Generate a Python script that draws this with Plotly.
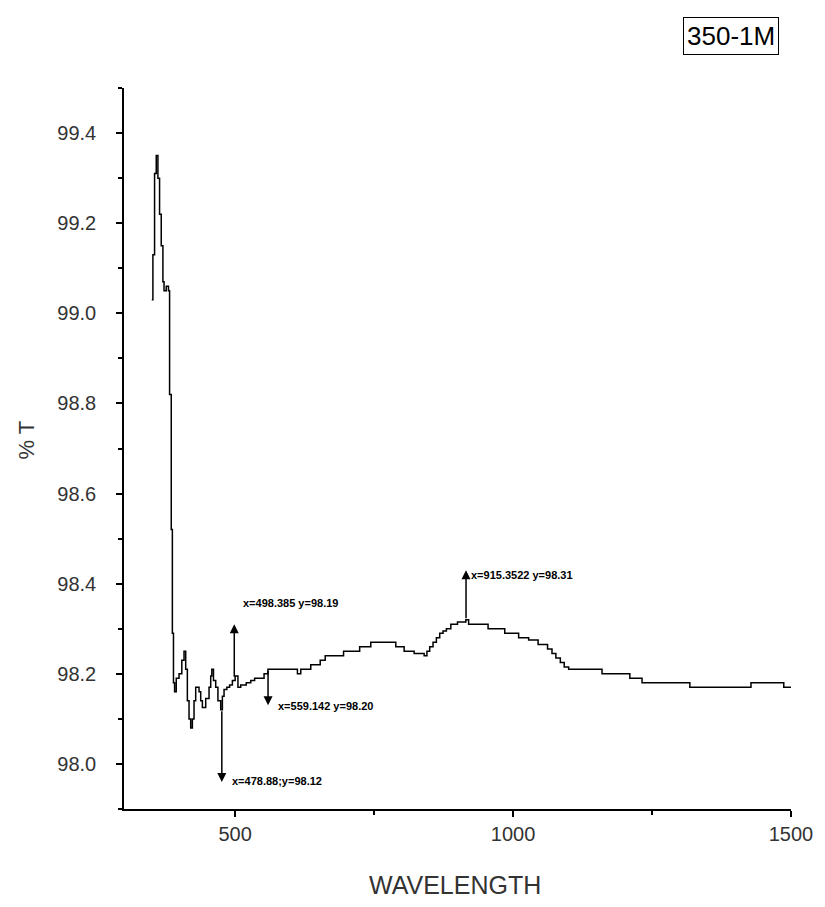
import plotly.graph_objects as go

# Spectrum data (wavelength in nm, transmittance in %T)
wavelength = [350, 352, 355, 358, 361, 364, 367, 370, 372, 376, 380, 382, 385, 387, 389,
              391, 394, 399, 404, 408, 411, 414, 417, 420, 423, 426, 429, 435, 438, 441,
              447, 453, 456, 458, 461, 465, 469, 474, 477, 480, 485, 490, 495, 500, 505,
              510, 520, 528, 535, 547, 552, 559, 600, 612, 618, 625, 636, 653, 662, 695,
              724, 744, 789, 804, 822, 840, 845, 850, 856, 862, 868, 874, 880, 888, 900,
              915, 920, 955, 985, 1010, 1028, 1045, 1062, 1070, 1077, 1085, 1092, 1100, 1160,
              1210, 1232, 1318, 1428, 1487, 1500]
transmittance = [99.03, 99.13, 99.31, 99.35, 99.30, 99.22, 99.15, 99.07, 99.05, 99.06, 99.05,
                 98.82, 98.52, 98.29, 98.18, 98.16, 98.19, 98.20, 98.23, 98.25, 98.21, 98.14,
                 98.10, 98.08, 98.10, 98.14, 98.17, 98.16, 98.14, 98.125, 98.145, 98.17,
                 98.195, 98.21, 98.185, 98.17, 98.14, 98.12, 98.15, 98.165, 98.17, 98.175,
                 98.185, 98.195, 98.17, 98.175, 98.18, 98.185, 98.19, 98.19, 98.20, 98.21,
                 98.21, 98.20, 98.21, 98.21, 98.22, 98.23, 98.24, 98.25, 98.26, 98.27, 98.26,
                 98.25, 98.245, 98.24, 98.25, 98.26, 98.27, 98.28, 98.29, 98.295, 98.30,
                 98.31, 98.315, 98.32, 98.31, 98.30, 98.29, 98.28, 98.275, 98.265, 98.255,
                 98.245, 98.235, 98.225, 98.215, 98.21, 98.20, 98.19, 98.18, 98.17, 98.18,
                 98.17, 98.17]

# Point annotations: curve point, arrow tip, label, label position
ann_x = [498.385, 559.142, 476.0, 915.3522]
ann_y = [98.19, 98.21, 98.12, 98.32]
ann_tip_y = [98.31, 98.13, 97.96, 98.43]
ann_text = ["x=498.385 y=98.19", "x=559.142 y=98.20", "x=478.88;y=98.12", "x=915.3522 y=98.31"]
ann_text_x = [511, 573, 491, 920]
ann_text_y = [98.357, 98.128, 97.962, 98.42]

x_ticks = [500, 1000, 1500]

fig = go.Figure()
fig.add_trace(go.Scatter(
    x=wavelength, y=transmittance, mode="lines",
    line=dict(color="black", width=1.5, shape="hv"),
    showlegend=False, hoverinfo="skip",
))

annotations = []
for xa, ya, yt, t, tx, ty in zip(ann_x, ann_y, ann_tip_y, ann_text, ann_text_x, ann_text_y):
    annotations.append(dict(
        x=xa, y=yt, ax=xa, ay=ya, xref="x", yref="y", axref="x", ayref="y",
        text="", showarrow=True, arrowhead=2, arrowsize=1.2, arrowwidth=1.5,
        arrowcolor="black", standoff=0, startstandoff=0,
    ))
    annotations.append(dict(
        x=tx, y=ty, xref="x", yref="y", text=t, showarrow=False,
        xanchor="left", yanchor="middle",
        font=dict(family="Liberation Sans Narrow, Arial Narrow, Arial", size=11, color="black", weight="bold"),
    ))

annotations.append(dict(
    x=0.496, y=-0.105, xref="paper", yref="paper", text="WAVELENGTH", showarrow=False,
    xanchor="center", yanchor="middle",
    font=dict(family="Arial, Liberation Sans", size=25, color="#333333"),
))
annotations.append(dict(
    x=(25 - 124) / 677, y=1 - (440 - 88) / 721, xref="paper", yref="paper",
    text="% T", showarrow=False, textangle=-90, xanchor="center", yanchor="middle",
    font=dict(family="Arial, Liberation Sans", size=22, color="#333333"),
))
annotations.append(dict(
    x=(740 - 124) / 677, y=1 + (88 - 36) / 721, xref="paper", yref="paper",
    text="350-1M", showarrow=False, xanchor="center", yanchor="middle",
    bordercolor="black", borderwidth=1, borderpad=3, bgcolor="white",
    font=dict(family="Arial, Liberation Sans", size=26, color="black"),
))

fig.update_layout(
    width=825, height=907,
    margin=dict(l=124, r=24, t=88, b=98),
    paper_bgcolor="white", plot_bgcolor="white",
    annotations=annotations,
    font=dict(family="Arial, Liberation Sans"),
)
fig.update_xaxes(
    range=[300, 1500], tickvals=x_ticks, ticktext=[str(v) for v in x_ticks],
    showline=True, linecolor="black", linewidth=1.5, mirror=False,
    ticks="outside", ticklen=6, tickwidth=1.5, tickcolor="black",
    minor=dict(dtick=250, tick0=0, ticks="outside", ticklen=4, tickcolor="black", tickwidth=1.5),
    showgrid=False, zeroline=False,
    tickfont=dict(size=20, color="#333333"),
)
fig.update_yaxes(
    range=[97.9, 99.5], dtick=0.2, tick0=98.0, tickformat=".1f",
    showline=True, linecolor="black", linewidth=1.5, mirror=False,
    ticks="outside", ticklen=6, tickwidth=1.5, tickcolor="black",
    ticklabelstandoff=16,
    minor=dict(dtick=0.1, tick0=98.0, ticks="outside", ticklen=4, tickcolor="black", tickwidth=1.5),
    showgrid=False, zeroline=False,
    tickfont=dict(size=20, color="#333333"),
)

fig.write_html("out.html")
